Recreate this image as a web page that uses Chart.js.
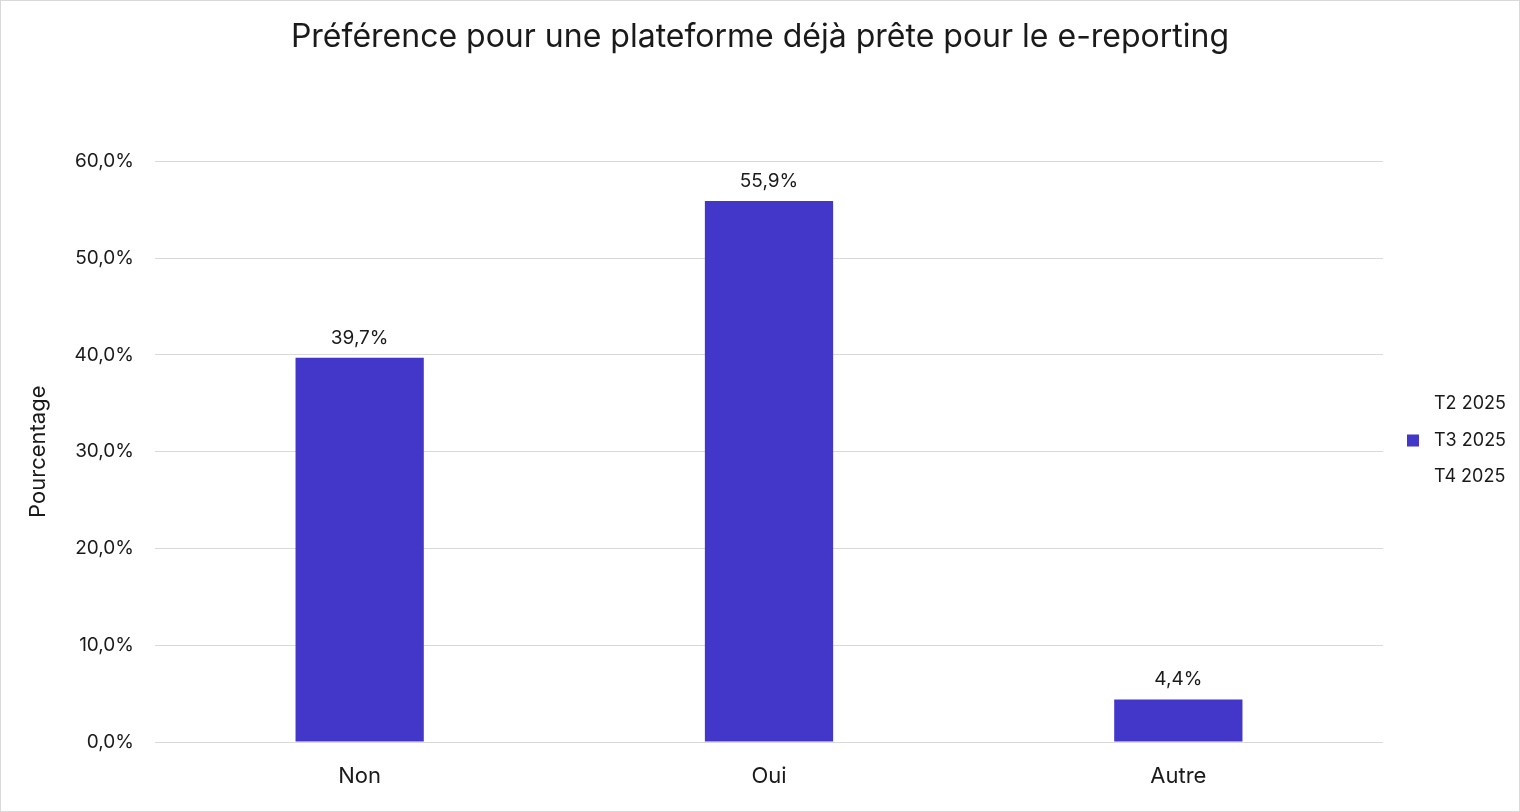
<!DOCTYPE html>
<html>
<head>
<meta charset="utf-8">
<script src="https://cdn.jsdelivr.net/npm/chart.js@4"></script>
<style>
  html, body { margin: 0; padding: 0; background: #fff; }
  #wrap { width: 1518px; height: 810px; border: 1px solid #d9d9d9; }
</style>
</head>
<body>
<div id="wrap"><canvas id="prefChart" width="1518" height="810"></canvas></div>
<script>
// Data
const categories = ["Non", "Oui", "Autre"];
const seriesNames = ["T2 2025", "T3 2025", "T4 2025"];
const t2Values = [null, null, null];
const t3Values = [39.7, 55.9, 4.4];
const t4Values = [null, null, null];
const yTicks = [0, 10, 20, 30, 40, 50, 60];

const FONT = "Inter, 'Noto Sans', sans-serif";
const BAR_COLOR = "#4237c9";

const fmt = (v, d) => v.toFixed(d).replace(".", ",") + "%";

// Value labels above the bars
const valueLabels = {
  id: "valueLabels",
  afterDatasetsDraw(chart) {
    const ctx = chart.ctx;
    ctx.save();
    ctx.font = "19px " + FONT;
    ctx.fillStyle = "#1a1a1a";
    ctx.textAlign = "center";
    ctx.textBaseline = "middle";
    chart.data.datasets.forEach((ds, i) => {
      chart.getDatasetMeta(i).data.forEach((bar, j) => {
        const v = ds.data[j];
        if (v == null) return;
        ctx.fillText(fmt(v, 1), bar.x, bar.y - 20);
      });
    });
    ctx.restore();
  }
};

// Legend on the right, vertical list
const sideLegend = {
  id: "sideLegend",
  afterDraw(chart) {
    const ctx = chart.ctx;
    ctx.save();
    ctx.font = "18px " + FONT;
    ctx.textBaseline = "middle";
    ctx.textAlign = "left";
    chart.data.datasets.forEach((ds, i) => {
      const y = 403 + i * 36.5;
      ctx.fillStyle = ds.backgroundColor;
      ctx.fillRect(1406, y - 6, 12, 12);
      ctx.fillStyle = "#1a1a1a";
      ctx.fillText(ds.label, 1433, y);
    });
    ctx.restore();
  }
};

new Chart(document.getElementById("prefChart"), {
  type: "bar",
  data: {
    labels: categories,
    datasets: [
      { label: seriesNames[0], data: t2Values, backgroundColor: "rgba(0,0,0,0)" },
      { label: seriesNames[1], data: t3Values, backgroundColor: BAR_COLOR },
      { label: seriesNames[2], data: t4Values, backgroundColor: "rgba(0,0,0,0)" }
    ]
  },
  options: {
    responsive: false,
    animation: false,
    layout: { padding: 0 },
    datasets: { bar: { barPercentage: 1, categoryPercentage: 0.94 } },
    plugins: {
      legend: { display: false },
      tooltip: { enabled: false },
      title: {
        display: true,
        text: "Préférence pour une plateforme déjà prête pour le e-reporting",
        color: "#1a1a1a",
        font: { family: FONT, size: 32, weight: "normal", lineHeight: 1.2 },
        padding: { top: 17, bottom: 105 }
      }
    },
    scales: {
      x: {
        grid: { display: false },
        border: { display: false },
        ticks: { color: "#1a1a1a", font: { family: FONT, size: 22 }, padding: 13 },
        afterFit(s) { s.height = 69; }
      },
      y: {
        min: 0,
        max: 60,
        grid: { color: "#d9d9d9", drawTicks: false },
        border: { display: false },
        afterBuildTicks(s) { s.ticks = yTicks.map(v => ({ value: v })); },
        ticks: {
          color: "#1a1a1a",
          font: { family: FONT, size: 19 },
          padding: 21,
          callback: v => fmt(v, 1)
        },
        title: {
          display: true,
          text: "Pourcentage",
          color: "#1a1a1a",
          font: { family: FONT, size: 22 },
          padding: { top: 24, bottom: 0 }
        },
        afterFit(s) { s.width = 154; }
      },
      // empty right-hand axis that reserves room for the legend
      legendSpace: {
        position: "right",
        grid: { display: false },
        border: { display: false },
        ticks: { display: false },
        afterFit(s) { s.width = 136; }
      }
    }
  },
  plugins: [valueLabels, sideLegend]
});
</script>
</body>
</html>
